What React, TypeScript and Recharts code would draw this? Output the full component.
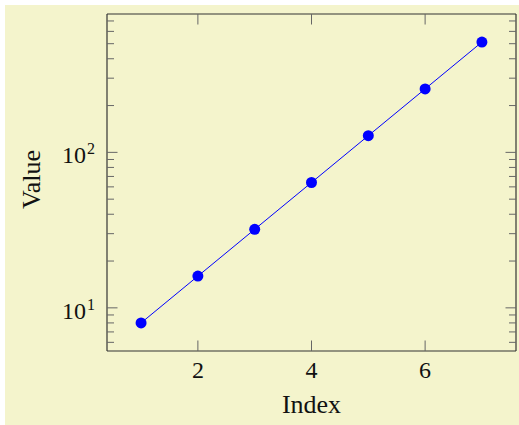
import React from 'react';
import { LineChart, Line, XAxis, YAxis, ReferenceLine } from 'recharts';

const indices = [1, 2, 3, 4, 5, 6, 7];
const values = [8, 16, 32, 64, 128, 256, 512];
const xTicks = [2, 4, 6];
const yMajorTicks = [10, 100];
const yMinorTicks = [6, 7, 8, 9, 20, 30, 40, 50, 60, 70, 80, 90, 200, 300, 400, 500, 600, 700];

const data = indices.map((x, i) => ({ x, y: values[i] }));
const yTicks = [...yMinorTicks, ...yMajorTicks].sort((a, b) => a - b);

const X_DOMAIN = [0.4, 7.6];
const Y_DOMAIN = [5.278, 776.1];

const FONT = "'Liberation Serif', 'Times New Roman', serif";
const TICK_COLOR = '#666';
const AXIS_COLOR = '#333';
const MAJOR = 10.5;
const MINOR = 7;

// plot box inside the chart svg
const W = 514;
const H = 420;
const M = { top: 9, right: 3, bottom: 74, left: 102 };
const LEFT = M.left;
const RIGHT = W - M.right;
const TOP = M.top;
const BOTTOM = H - M.bottom;

const textStyle = { fontFamily: FONT, fontSize: 24, fill: '#111' };
const labelStyle = { ...textStyle, fontSize: 26 };

function BottomTick(props: any) {
    const { x, payload } = props;
    return (
        <g>
            <line x1={x} y1={BOTTOM} x2={x} y2={BOTTOM - MAJOR} stroke={TICK_COLOR} strokeWidth={1} />
            <line x1={x} y1={TOP} x2={x} y2={TOP + MAJOR} stroke={TICK_COLOR} strokeWidth={1} />
            <text x={x} y={BOTTOM + 27} textAnchor="middle" style={textStyle}>
                {payload.value}
            </text>
        </g>
    );
}

function LeftTick(props: any) {
    const { y, payload } = props;
    const major = yMajorTicks.includes(payload.value);
    const len = major ? MAJOR : MINOR;
    const exp = Math.round(Math.log10(payload.value));
    return (
        <g>
            <line x1={LEFT} y1={y} x2={LEFT + len} y2={y} stroke={TICK_COLOR} strokeWidth={1} />
            <line x1={RIGHT} y1={y} x2={RIGHT - len} y2={y} stroke={TICK_COLOR} strokeWidth={1} />
            {major && (
                <text x={LEFT - 12} y={y + 11} textAnchor="end" style={textStyle}>
                    <tspan>10</tspan>
                    <tspan dx={1} dy={-9} style={{ fontSize: 16 }}>{exp}</tspan>
                </text>
            )}
        </g>
    );
}

export default function App() {
    return (
        <div style={{ position: 'absolute', left: 5, top: 5, width: W, height: H, background: '#f4f4cc' }}>
            <LineChart width={W} height={H} data={data} margin={{ top: M.top, right: M.right, bottom: 0, left: 0 }}>
                <XAxis
                    dataKey="x"
                    type="number"
                    domain={X_DOMAIN}
                    ticks={xTicks}
                    interval={0}
                    height={M.bottom}
                    tickLine={false}
                    axisLine={{ stroke: AXIS_COLOR, strokeWidth: 1.2 }}
                    tick={<BottomTick />}
                    allowDataOverflow
                    label={{
                        content: () => (
                            <text x={(LEFT + RIGHT) / 2} y={BOTTOM + 62} textAnchor="middle" style={labelStyle}>
                                Index
                            </text>
                        ),
                    }}
                />
                <YAxis
                    scale="log"
                    type="number"
                    domain={Y_DOMAIN}
                    ticks={yTicks}
                    interval={0}
                    width={M.left}
                    tickLine={false}
                    axisLine={{ stroke: AXIS_COLOR, strokeWidth: 1.2 }}
                    tick={<LeftTick />}
                    allowDataOverflow
                    label={{
                        content: () => {
                            const cx = 35;
                            const cy = (TOP + BOTTOM) / 2 - 3;
                            return (
                                <text x={cx} y={cy} transform={`rotate(-90, ${cx}, ${cy})`} textAnchor="middle" style={labelStyle}>
                                    Value
                                </text>
                            );
                        },
                    }}
                />
                <ReferenceLine x={X_DOMAIN[1]} stroke={AXIS_COLOR} strokeWidth={1.2} />
                <ReferenceLine y={Y_DOMAIN[1]} stroke={AXIS_COLOR} strokeWidth={1.2} />
                <Line
                    dataKey="y"
                    type="linear"
                    stroke="#0000ff"
                    strokeWidth={1}
                    dot={{ r: 5.5, fill: '#0000ff', stroke: 'none' }}
                    activeDot={false}
                    isAnimationActive={false}
                />
            </LineChart>
        </div>
    );
}
